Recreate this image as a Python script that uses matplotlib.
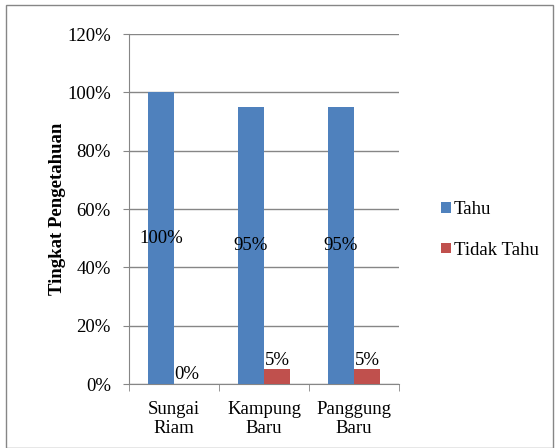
import matplotlib.pyplot as plt
import numpy as np
from matplotlib.patches import Rectangle

plt.rcParams['font.family'] = ['Liberation Serif', 'DejaVu Serif']

categories = ['Sungai\nRiam', 'Kampung\nBaru', 'Panggung\nBaru']
tahu = [100, 95, 95]
tidak_tahu = [0, 5, 5]

fs = 13.5
fig = plt.figure(figsize=(5.59, 4.48), dpi=100)
ax = fig.add_axes([129 / 559, 64 / 448, 270 / 559, 350 / 448])

x = np.arange(len(categories))
w = 0.29
b1 = ax.bar(x - w / 2, tahu, w, color='#4f81bd', label='Tahu', zorder=3)
b2 = ax.bar(x + w / 2, tidak_tahu, w, color='#c0504d', label='Tidak Tahu', zorder=3)

for bar, v in zip(b1, tahu):
    ax.text(bar.get_x() + bar.get_width() / 2, v / 2, f'{v}%', ha='center', va='center',
            fontsize=fs, zorder=4)
for bar, v in zip(b2, tidak_tahu):
    ax.text(bar.get_x() + bar.get_width() / 2, v + 0.3, f'{v}%', ha='center', va='bottom',
            fontsize=fs, zorder=4)

ax.set_xlim(-0.5, 2.5)
ax.set_ylim(0, 120)
ax.set_yticks(range(0, 121, 20))
ax.set_yticklabels([f'{t}%' for t in range(0, 121, 20)], fontsize=fs)
ax.set_xticks(x)
ax.set_xticklabels(categories, fontsize=fs, linespacing=1.15)
ax.tick_params(axis='x', length=0, pad=12)
ax.set_xticks([-0.5, 0.5, 1.5, 2.5], minor=True)
ax.tick_params(axis='x', which='minor', length=5, color='#868686')
ax.tick_params(axis='y', length=4, color='#868686', pad=9)
ax.grid(axis='y', color='#868686', linewidth=1, zorder=0)
for s in ['top', 'right']:
    ax.spines[s].set_visible(False)
for s in ['left', 'bottom']:
    ax.spines[s].set_color('#868686')

ax.set_ylabel('Tingkat Pengetahuan', fontsize=fs, fontweight='bold', labelpad=1)

fig.legend(handles=[b1, b2], loc='center left', bbox_to_anchor=(432 / 559, 1 - 230 / 448),
           frameon=False, fontsize=fs, handlelength=0.5, handleheight=0.5,
           handletextpad=0.15, labelspacing=1.25, borderpad=0)

fig.patches.append(Rectangle((6 / 559, 0), 547 / 559, 443 / 448, transform=fig.transFigure,
                             fill=False, edgecolor='#868686', linewidth=1))

fig.savefig('out.png', dpi=100)
